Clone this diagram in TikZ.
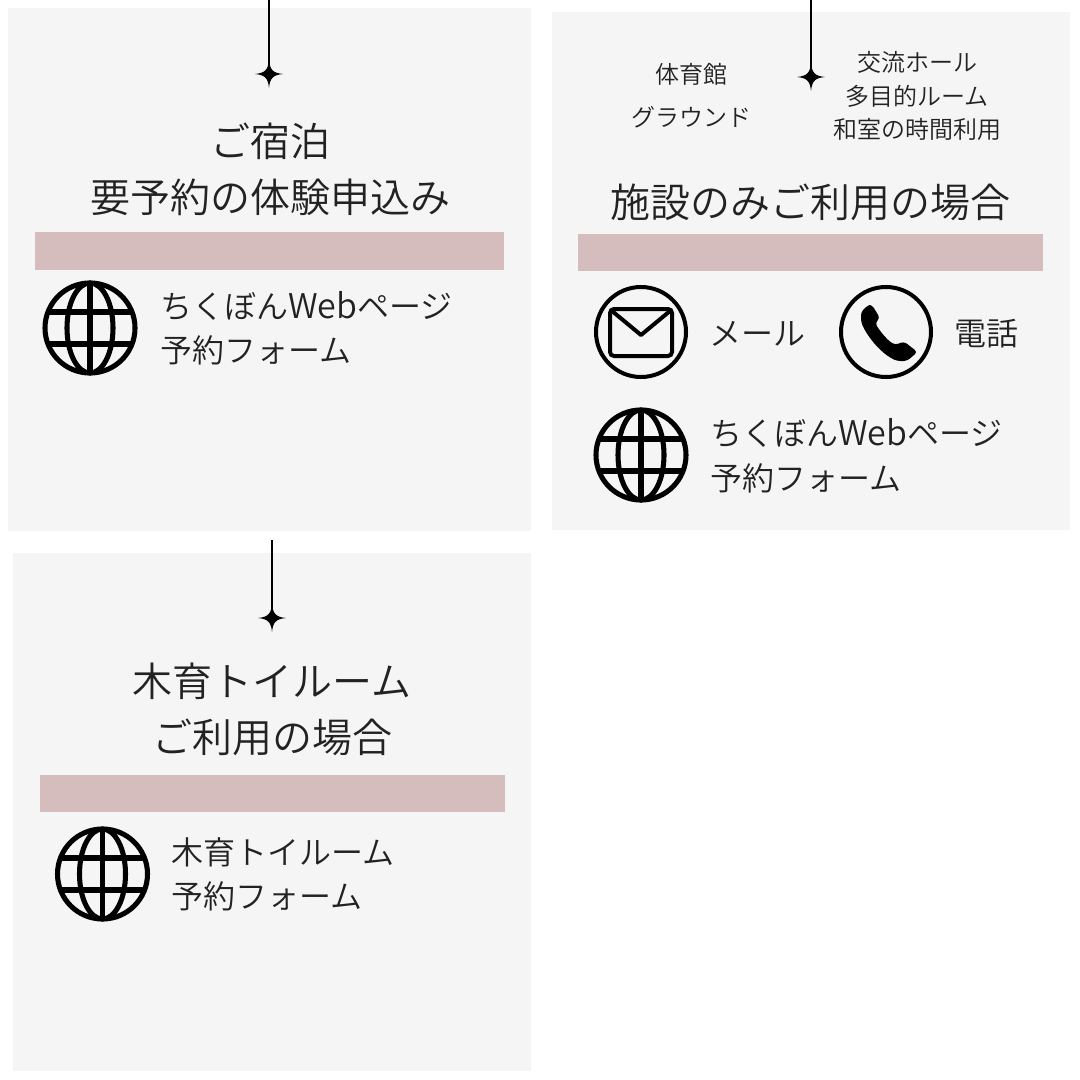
\documentclass[tikz,border=0pt]{standalone}
\usepackage{fontspec}
\newfontfamily\jpfont{Noto Sans CJK JP}[UprightFont=* DemiLight]
\definecolor{panel}{HTML}{F5F5F5}
\definecolor{bar}{HTML}{D5BDBD}
\definecolor{ink}{HTML}{222222}
\newcommand{\webword}{{\fontsize{25.5pt}{24pt}\selectfont Web}}
\tikzset{
  x=0.75pt,y=-0.75pt,
  panelbox/.style={fill=panel,draw=none},
  barbox/.style={fill=bar,draw=none},
  heading/.style={inner sep=0pt,anchor=base,text=ink,font=\jpfont\fontsize{30pt}{30pt}\selectfont},
  body/.style={inner sep=0pt,anchor=base west,text=ink,font=\jpfont\fontsize{24pt}{24pt}\selectfont},
  small/.style={inner sep=0pt,anchor=base,text=ink,font=\jpfont\fontsize{18pt}{18pt}\selectfont},
  stem/.style={draw=black,line width=0.9pt},
  globe/.pic={
    \draw[black,line width=3.8pt] (0,0) circle[radius=45];
    \draw[black,line width=3.8pt] (0,0) ellipse[x radius=23,y radius=45];
    \draw[black,line width=3.8pt] (0,-45) -- (0,45);
    \draw[black,line width=3.8pt] (-41,-16) -- (41,-16);
    \draw[black,line width=3.8pt] (-41,16) -- (41,16);
  },
  sparkle/.pic={
    \fill[black] (0,-14) .. controls (1,-4) and (4,-1) .. (14,0)
      .. controls (4,1) and (1,4) .. (0,14)
      .. controls (-1,4) and (-4,1) .. (-14,0)
      .. controls (-4,-1) and (-1,-4) .. (0,-14) -- cycle;
  }
}
\begin{document}
\begin{tikzpicture}
\useasboundingbox (0,0) rectangle (1080,1080);
\fill[white] (0,0) rectangle (1080,1080);
% panels
\path[panelbox] (8,8) rectangle (531,531);
\path[panelbox] (552,12) rectangle (1070,530);
\path[panelbox] (13,553) rectangle (531,1071);
\path[barbox] (35,232) rectangle (504,270);
\path[barbox] (578,234) rectangle (1043,271);
\path[barbox] (40,775) rectangle (505,812);
% stems
\coordinate (s1a) at (269,0);   \coordinate (s1b) at (269,74);
\coordinate (s2a) at (811,0);   \coordinate (s2b) at (811,77);
\coordinate (s3a) at (272,540); \coordinate (s3b) at (272,618);
\draw[stem] (s1a) -- (s1b);
\draw[stem] (s2a) -- (s2b);
\draw[stem] (s3a) -- (s3b);
\pic at (s1b) {sparkle};
\pic at (s2b) {sparkle};
\pic at (s3b) {sparkle};
% panel 1
\node[heading] (t1a) at (270,157) {ご宿泊};
\node[heading] (t1b) at (270,213) {要予約の体験申込み};
\pic at (90,328) {globe};
\node[body] (t1c) at (160,318) {ちくぼん\webword ページ};
\node[body] (t1d) at (160,362) {予約フォーム};
% panel 2
\node[small] (t2a) at (691,84) {体育館};
\node[small] (t2b) at (691,127) {グラウンド};
\node[small] (t2c) at (917,72) {交流ホール};
\node[small] (t2d) at (917,106) {多目的ルーム};
\node[small] (t2e) at (917,139) {和室の時間利用};
\node[heading] (t2f) at (810,218) {施設のみご利用の場合};
\draw[black,line width=3pt] (641,332) circle[radius=45];
\draw[black,line width=3pt,rounded corners=3pt] (610,309) rectangle (672,356);
\draw[black,line width=3pt,line join=round] (612,311) -- (641,335) -- (670,311);
\node[body] (t2g) at (709,345) {メール};
\draw[black,line width=3pt] (886,332) circle[radius=45];
\fill[black,rounded corners=2.5pt] (868,305) -- (861,312) -- (861,322)
  .. controls (868,338) and (882,354) .. (897,361)
  -- (907,361) -- (917.5,352) -- (904,341.5) -- (895,345)
  .. controls (886,339) and (880,331) .. (875,323)
  -- (880,318) -- (872,305) -- cycle;
\node[body] (t2h) at (954,345) {電話};
\pic at (641,455) {globe};
\node[body] (t2i) at (710,445) {ちくぼん\webword ページ};
\node[body] (t2j) at (710,490) {予約フォーム};
% panel 3
\node[heading] (t3a) at (272,696) {木育トイルーム};
\node[heading] (t3b) at (272,752) {ご利用の場合};
\pic at (102.5,874) {globe};
\node[body] (t3c) at (171,864) {木育トイルーム};
\node[body] (t3d) at (171,908) {予約フォーム};
\end{tikzpicture}
\end{document}
